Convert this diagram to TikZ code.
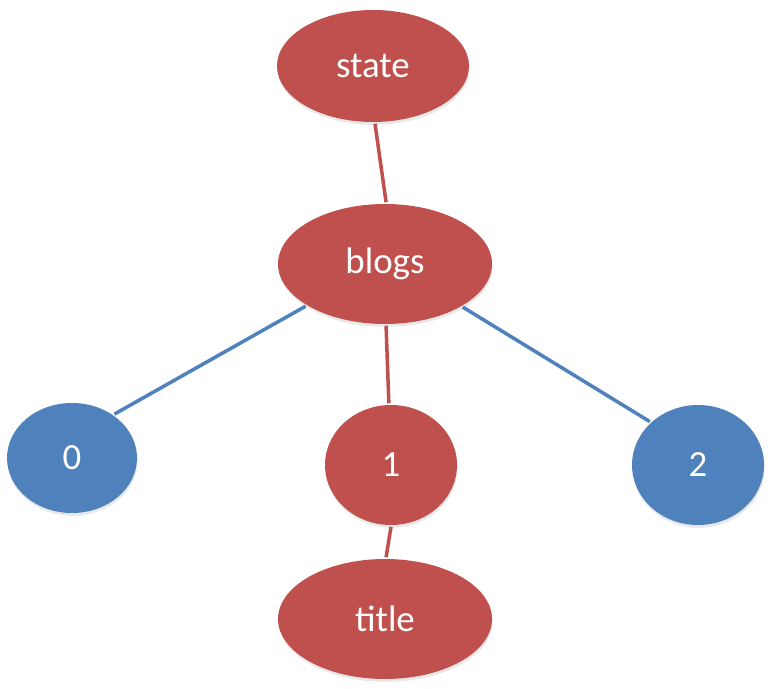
\documentclass[tikz,border=0pt]{standalone}
\usepackage{fontspec}
\setmainfont{Carlito}
\usetikzlibrary{shapes.geometric,shadows}
\definecolor{ballred}{HTML}{C0504D}
\definecolor{ballblue}{HTML}{4F81BD}
\begin{document}
\begin{tikzpicture}[line width=2pt,
	ball/.style={ellipse, draw=none, inner sep=0pt, text=white, font=\fontsize{21}{25}\selectfont,
		drop shadow={opacity=0.18, shadow xshift=0.4pt, shadow yshift=-1.6pt}},
	redball/.style={ball, fill=ballred},
	blueball/.style={ball, fill=ballblue}]
	\useasboundingbox (0,0) rectangle (15.42,-13.78);
	% ==================== 节点 ====================
	\node[redball, minimum width=3.84cm, minimum height=2.24cm] (state) at (7.46,-1.32) {state};
	\node[redball, minimum width=4.28cm, minimum height=2.40cm] (blogs) at (7.70,-5.28) {blogs};
	\node[blueball, minimum width=2.60cm, minimum height=2.20cm] (n0) at (1.44,-9.16) {0};
	\node[redball, minimum width=2.64cm, minimum height=2.40cm] (n1) at (7.82,-9.30) {1};
	\node[blueball, minimum width=2.64cm, minimum height=2.40cm] (n2) at (13.96,-9.30) {2};
	\node[redball, minimum width=4.28cm, minimum height=2.40cm] (title) at (7.70,-12.38) {title};
	% ==================== 连线 ====================
	\draw[ballred] (state.272) -- (blogs.89);
	\draw[ballblue] (blogs.208.7) -- (n0.46.8);
	\draw[ballred] (blogs.271) -- (n1.92);
	\draw[ballblue] (blogs.331.3) -- (n2.138.3);
	\draw[ballred] (n1.270) -- (title.89);
\end{tikzpicture}
\end{document}
